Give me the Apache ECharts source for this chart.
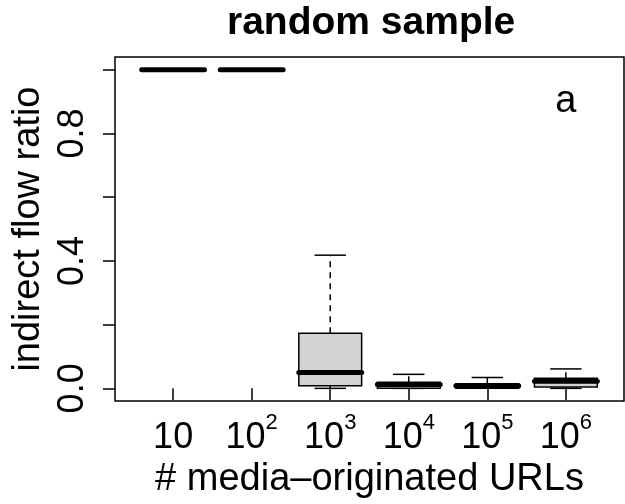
<!DOCTYPE html>
<html>
<head>
<meta charset="utf-8">
<script src="https://cdn.jsdelivr.net/npm/echarts@6/dist/echarts.min.js"></script>
<style>
  html, body { margin: 0; padding: 0; background: #fff; }
  #chart { width: 625px; height: 504px; }
</style>
</head>
<body>
<div id="chart"></div>
<script>
// one box per group, groups sit at x = 1..6
const positions = [1, 2, 3, 4, 5, 6]
const exponents = [1, 2, 3, 4, 5, 6]
const lowWhisker = [1.0, 1.0, 0.0, 0.0, 0.0, 0.0]
const lowerQuartile = [1.0, 1.0, 0.008, 0.0, 0.0, 0.004]
const medians = [1.0, 1.0, 0.05, 0.012, 0.008, 0.022]
const upperQuartile = [1.0, 1.0, 0.173, 0.0195, 0.0145, 0.032]
const highWhisker = [1.0, 1.0, 0.418, 0.044, 0.034, 0.061]
const yTicks = [0, 0.2, 0.4, 0.6, 0.8, 1.0]
const yLabels = [0, 0.4, 0.8]
const panelTag = [[6, 0.9]]

const font = 'Liberation Sans, Arial, Helvetica, sans-serif'
const halfBox = 0.4
const halfCap = 0.2

const boxData = positions.map((x, i) => [
  x, lowWhisker[i], lowerQuartile[i], medians[i], upperQuartile[i], highWhisker[i],
])

const renderBox = (params, api) => {
  const x = api.value(0)
  const pt = (dx, v) => api.coord([x + dx, v])
  const lo = api.value(1)
  const q1 = api.value(2)
  const med = api.value(3)
  const q3 = api.value(4)
  const hi = api.value(5)
  const line = (a, b, style) => ({
    type: 'line',
    shape: { x1: a[0], y1: a[1], x2: b[0], y2: b[1] },
    style: Object.assign({ stroke: '#000', lineWidth: 1.5 }, style),
  })
  const tl = pt(-halfBox, q3)
  const br = pt(halfBox, q1)
  return {
    type: 'group',
    children: [
      line(pt(0, q3), pt(0, hi), { lineDash: [6, 5] }),
      line(pt(0, q1), pt(0, lo), { lineDash: [6, 5] }),
      line(pt(-halfCap, hi), pt(halfCap, hi)),
      line(pt(-halfCap, lo), pt(halfCap, lo)),
      {
        type: 'rect',
        shape: { x: tl[0], y: tl[1], width: br[0] - tl[0], height: br[1] - tl[1] },
        style: { fill: '#d3d3d3', stroke: '#000', lineWidth: 1.5 },
      },
      line(pt(-halfBox, med), pt(halfBox, med), { lineWidth: 5, lineCap: 'round' }),
    ],
  }
}

const chart = echarts.init(document.getElementById('chart'), null, { renderer: 'canvas' })

chart.setOption({
  animation: false,
  backgroundColor: '#fff',
  title: {
    text: 'random sample',
    left: 227,
    top: 0,
    padding: [4, 0, 0, 0],
    textStyle: { fontFamily: font, fontSize: 39, fontWeight: 'bold', color: '#000' },
  },
  grid: {
    left: 115,
    right: 1,
    top: 57,
    bottom: 99,
    show: true,
    borderColor: '#000',
    borderWidth: 1.5,
  },
  xAxis: {
    type: 'value',
    min: 0.26,
    max: 6.74,
    name: '# media\u2013originated URLs',
    nameLocation: 'middle',
    nameGap: 56,
    nameTextStyle: { fontFamily: font, fontSize: 38, color: '#000' },
    axisLine: { show: false },
    splitLine: { show: false },
    axisTick: {
      customValues: positions,
      length: 12,
      lineStyle: { color: '#000', width: 1.5 },
    },
    axisLabel: {
      customValues: exponents,
      margin: 11,
      formatter: (v) => (v === 1 ? '{b|10}' : '{b|10}{s|' + v + '}'),
      rich: {
        b: { fontFamily: font, fontSize: 36, color: '#000', verticalAlign: 'bottom', padding: [8, 0, 0, 0] },
        s: { fontFamily: font, fontSize: 22, color: '#000', verticalAlign: 'top' },
      },
    },
  },
  yAxis: {
    type: 'value',
    min: -0.04,
    max: 1.04,
    name: 'indirect flow ratio',
    nameLocation: 'middle',
    nameGap: 65,
    nameTextStyle: { fontFamily: font, fontSize: 38, color: '#000' },
    axisLine: { show: false },
    splitLine: { show: false },
    axisTick: {
      customValues: yTicks,
      length: 12,
      lineStyle: { color: '#000', width: 1.5 },
    },
    axisLabel: {
      customValues: yLabels,
      rotate: 90,
      margin: 24,
      fontFamily: font,
      fontSize: 36,
      color: '#000',
      formatter: (v) => v.toFixed(1),
    },
  },
  series: [
    {
      type: 'custom',
      renderItem: renderBox,
      data: boxData,
      encode: { x: 0, y: [1, 2, 3, 4, 5] },
      silent: true,
      clip: false,
    },
    {
      type: 'scatter',
      data: panelTag,
      symbolSize: 0,
      silent: true,
      itemStyle: { opacity: 1 },
      label: {
        show: true,
        position: 'inside',
        formatter: 'a',
        fontFamily: font,
        fontSize: 38,
        color: '#000',
      },
    },
  ],
})
</script>
</body>
</html>
